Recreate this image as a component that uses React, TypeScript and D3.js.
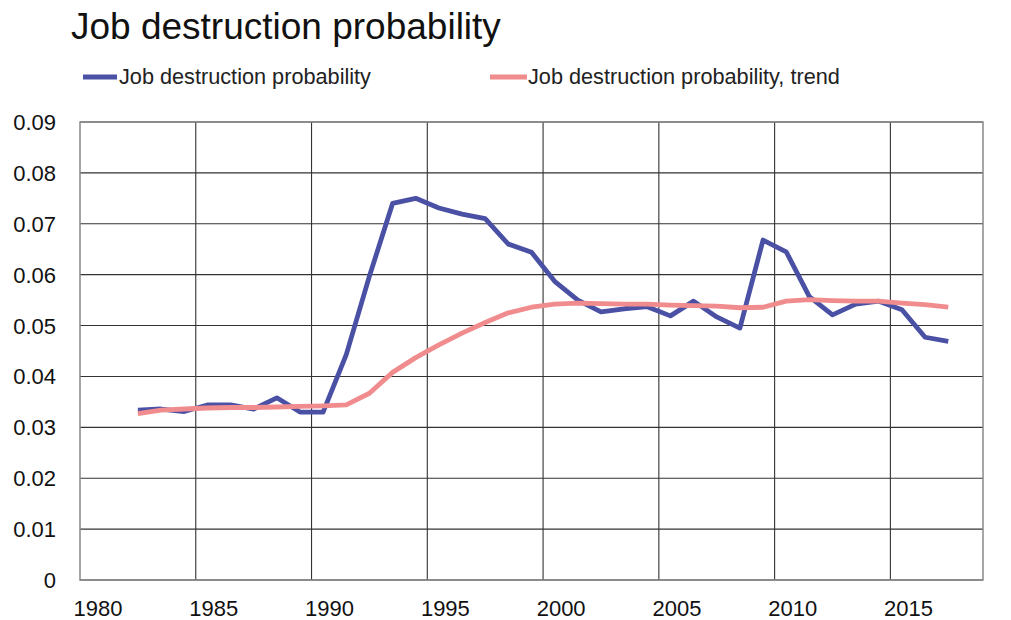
import React from "react";
import * as d3 from "d3";

const years: number[] = [
  1982, 1983, 1984, 1985, 1986, 1987, 1988, 1989, 1990, 1991, 1992, 1993,
  1994, 1995, 1996, 1997, 1998, 1999, 2000, 2001, 2002, 2003, 2004, 2005,
  2006, 2007, 2008, 2009, 2010, 2011, 2012, 2013, 2014, 2015, 2016, 2017,
];

const jobDestruction: number[] = [
  0.0334, 0.0336, 0.0331, 0.0344, 0.0344, 0.0336, 0.0358, 0.033, 0.033,
  0.0443, 0.0597, 0.074, 0.075, 0.0731, 0.0719, 0.071, 0.066, 0.0644, 0.0587,
  0.055, 0.0527, 0.0533, 0.0537, 0.0519, 0.0548, 0.0517, 0.0495, 0.0668,
  0.0645, 0.0557, 0.0521, 0.0542, 0.0548, 0.0531, 0.0477, 0.0469,
];

const jobDestructionTrend: number[] = [
  0.0327, 0.0334, 0.0336, 0.0338, 0.0339, 0.0339, 0.034, 0.0341, 0.0342,
  0.0344, 0.0367, 0.0408, 0.0437, 0.0462, 0.0485, 0.0506, 0.0525, 0.0536,
  0.0542, 0.0544, 0.0543, 0.0542, 0.0542, 0.054, 0.0539, 0.0538, 0.0535,
  0.0536, 0.0548, 0.0551, 0.0549, 0.0548, 0.0548, 0.0544, 0.0541, 0.0536,
];

const xTickYears: number[] = [1980, 1985, 1990, 1995, 2000, 2005, 2010, 2015];
const yTicks: number[] = [0, 0.01, 0.02, 0.03, 0.04, 0.05, 0.06, 0.07, 0.08, 0.09];

const title = "Job destruction probability";
const seriesNames: string[] = [
  "Job destruction probability",
  "Job destruction probability, trend",
];
const seriesColors: string[] = ["#4a51a4", "#f08c8e"];

export default function App() {
  const W = 1011;
  const H = 620;
  const left = 80;
  const right = 983;
  const top = 122;
  const bottom = 580;

  const x = d3.scaleLinear().domain([1980, 2019]).range([left, right]);
  const y = d3.scaleLinear().domain([0, 0.09]).range([bottom, top]);

  const line = d3
    .line<number>()
    .x((_, i) => x(years[i] + 0.5))
    .y((d) => y(d));

  const font = "'Liberation Sans', Arial, Helvetica, sans-serif";

  return (
    <svg
      width={W}
      height={H}
      style={{ position: "absolute", left: 0, top: 0, background: "#fff" }}
      fontFamily={font}
    >
      <text x={71} y={39} fontSize={37} fill="#111">
        {title}
      </text>

      {/* legend */}
      <line x1={83} x2={117} y1={77} y2={77} stroke={seriesColors[0]} strokeWidth={5} />
      <text x={119} y={84} fontSize={21.7} fill="#222">
        {seriesNames[0]}
      </text>
      <line x1={490} x2={527} y1={77} y2={77} stroke={seriesColors[1]} strokeWidth={5} />
      <text x={528} y={84} fontSize={21.7} fill="#222">
        {seriesNames[1]}
      </text>

      {/* horizontal gridlines */}
      {yTicks.map((t) => (
        <line
          key={"h" + t}
          x1={left}
          x2={right}
          y1={y(t)}
          y2={y(t)}
          stroke="#333"
          strokeWidth={1.1}
        />
      ))}
      {/* vertical gridlines */}
      {xTickYears.slice(1).map((yr) => (
        <line
          key={"v" + yr}
          x1={x(yr)}
          x2={x(yr)}
          y1={top}
          y2={bottom}
          stroke="#333"
          strokeWidth={1.1}
        />
      ))}
      <rect
        x={left}
        y={top}
        width={right - left}
        height={bottom - top}
        fill="none"
        stroke="#888"
        strokeWidth={1.5}
      />

      {/* y labels */}
      {yTicks.map((t) => (
        <text
          key={"yl" + t}
          x={56}
          y={y(t) + 8}
          fontSize={22}
          textAnchor="end"
          fill="#111"
        >
          {t === 0 ? "0" : d3.format(".2f")(t)}
        </text>
      ))}
      {/* x labels */}
      {xTickYears.map((yr) => (
        <text
          key={"xl" + yr}
          x={x(yr + 0.78)}
          y={616}
          fontSize={22}
          textAnchor="middle"
          fill="#111"
        >
          {yr}
        </text>
      ))}

      {/* series */}
      <path
        d={line(jobDestruction) ?? ""}
        fill="none"
        stroke={seriesColors[0]}
        strokeWidth={4.8}
        strokeLinejoin="round"
      />
      <path
        d={line(jobDestructionTrend) ?? ""}
        fill="none"
        stroke={seriesColors[1]}
        strokeWidth={4.8}
        strokeLinejoin="round"
      />
    </svg>
  );
}
